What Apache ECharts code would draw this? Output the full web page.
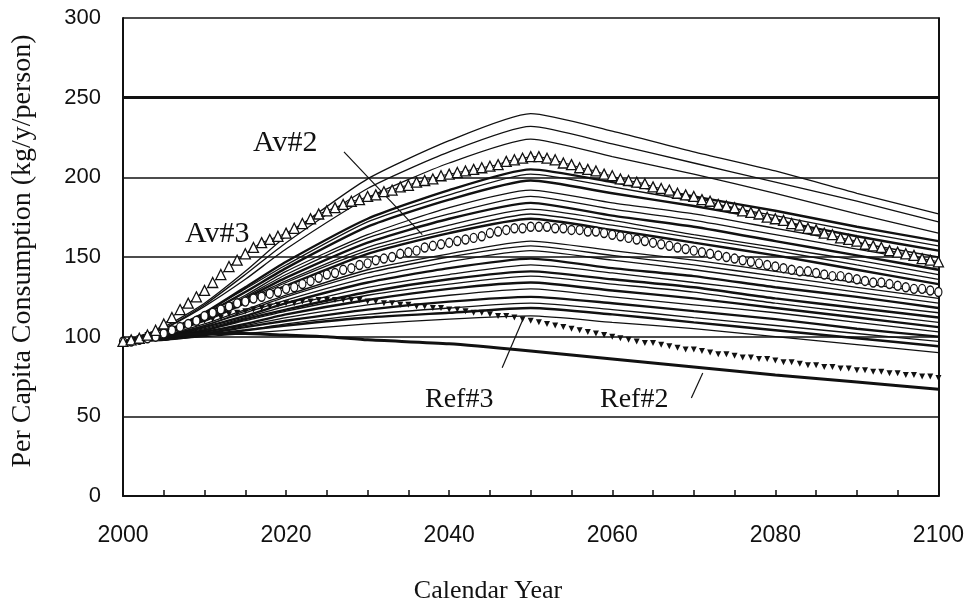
<!DOCTYPE html>
<html><head><meta charset="utf-8">
<script src="https://cdn.jsdelivr.net/npm/echarts@6/dist/echarts.min.js"></script>
<style>html,body{margin:0;padding:0;background:#fff}#c{width:967px;height:608px}</style>
</head><body><div id="c"></div>
<script>
// ---- data ----
const keyYears = [2000,2005,2010,2015,2020,2030,2040,2050,2060,2070,2080,2090,2100];
const L1  = [97,106,121,141,163,199,223,240,229,216,204,190,177];
const L2  = [97,105,120,139,159,193,216,232,221,209,197,185,172];
const L3  = [97,105,119,136,155,187,209,224,213,202,190,177,165];
const L4  = [97,103,115,131,147,174,192,205,197,188,179,169,160];
const L5  = [97,103,115,130,145,172,189,202,194,185,176,166,157];
const L6  = [97,103,114,128,143,169,186,198,190,182,173,163,154];
const L7  = [97,103,113,126,141,164,181,192,184,177,168,159,150];
const L8  = [97,102,112,125,139,162,177,188,180,173,164,155,146];
const L9  = [97,102,112,124,137,159,174,184,176,169,160,151,142];
const L10 = [97,102,111,123,135,156,170,180,173,164,156,148,139];
const L11 = [97,102,111,122,134,154,167,177,170,162,154,145,136];
const L12 = [97,102,110,121,132,152,165,174,167,159,151,142,133];
const L13 = [97,101,108,117,126,142,152,160,154,148,141,134,127];
const L14 = [97,101,107,116,125,140,150,157,151,145,138,131,124];
const L15 = [97,100,107,115,123,137,147,154,148,142,135,128,121];
const L16 = [97,100,106,113,121,134,143,149,143,138,131,125,118];
const L17 = [97,100,105,112,119,131,139,145,140,134,128,121,115];
const L18 = [97,100,104,111,117,128,136,141,136,131,124,118,112];
const L19 = [97,99,104,110,116,126,133,138,133,128,121,115,109];
const L20 = [97,99,103,108,114,123,130,134,129,124,118,112,106];
const L21 = [97,99,103,107,112,120,126,130,125,120,115,109,103];
const L22 = [97,99,102,106,110,117,122,125,121,116,111,105,100];
const L23 = [97,98,101,104,108,114,118,121,117,112,107,102,97];
const L24 = [97,98,101,104,107,112,115,118,114,109,104,99,94];
const L25 = [97,98,100,102,104,108,111,113,109,105,100,95,90];

const ref2Years = [2000,2005,2010,2015,2020,2025,2030,2040,2050,2060,2070,2080,2090,2100];
const ref2 = [97,100,102,102,101,100,98,95.5,91,86,81,76,71.5,67];

// annual values, 2000..2100
const firstYear = 2000;
const av3 = [97,98,99,101,104,108,112,117,121,125,129,
  134,139,144,148,152,156,159,161,163,165,
  168,171,174,177,179,181,183,185,186,188,
  189,191,192,194,195,197,198,199,201,202,
  203,204,205,206,207,208,210,211,212,213,
  213,212,211,209,208,206,205,204,202,201,
  199,198,197,196,194,193,192,190,189,188,
  186,185,183,182,181,179,178,177,175,174,
  173,171,170,168,167,165,164,162,161,160,
  158,157,156,154,153,152,151,149,148,147];
const av2 = [97,97,98,99,100,102,104,106,108,110,113,
  115,117,119,121,122,124,125,127,128,130,
  131,133,135,137,139,140,142,143,145,146,
  148,149,150,152,153,154,156,157,158,159,
  160,161,162,163,165,166,167,168,168,169,
  169,169,168,168,167,167,166,166,165,164,
  163,162,161,160,159,158,157,156,155,154,
  153,152,151,150,149,148,147,146,145,144,
  143,142,141,141,140,139,138,138,137,136,
  135,134,134,133,132,131,130,130,129,128];
const ref3 = [97,98,99,101,102,103,105,106,107,109,110,
  111,112,114,115,116,117,118,119,120,121,
  121,122,122,123,123,123,123,123,123,122,
  122,121,121,120,120,119,119,118,118,117,
  117,116,115,115,114,113,113,112,111,110,
  109,108,107,106,105,104,103,102,101,100,
  99,98,97,96,96,95,94,93,92,92,
  91,90,89,89,88,87,87,86,86,85,
  84,84,83,82,82,81,81,80,80,79,
  79,78,78,77,77,76,76,75,75,74];

const yTicks = [0,50,100,150,200,250,300];
const xLabelYears = [2000,2020,2040,2060,2080,2100];

// ---- chart ----
const chart = echarts.init(document.getElementById('c'), null, {renderer:'canvas'});
const INK = '#111';
const solidLines = [L1,L2,L3,L4,L5,L6,L7,L8,L9,L10,L11,L12,L13,L14,L15,L16,L17,L18,L19,L20,L21,L22,L23,L24,L25];
const boldIdx = [3,5,8,11,15,17,19,21,23];
const series = [];
solidLines.forEach((arr, k) => {
  series.push({
    type:'line', silent:true, symbol:'none', smooth:0.2,
    lineStyle:{color:INK, width: boldIdx.includes(k) ? 2.4 : 1.3},
    data: keyYears.map((y,i)=>[y, arr[i]]), z:2
  });
});
series.push({
  type:'line', silent:true, symbol:'none', smooth:0.2,
  lineStyle:{color:INK, width:3},
  data: ref2Years.map((y,i)=>[y, ref2[i]]), z:3,
  markLine:{
    silent:true, symbol:'none', label:{show:false},
    lineStyle:{color:INK, width:1.2, type:'solid'},
    data:[
      [{coord:[2027.1,216]},{coord:[2036.7,164]}],
      [{coord:[2046.5,80.5]},{coord:[2049.1,111.5]}],
      [{coord:[2069.7,61.5]},{coord:[2071.1,77.2]}],
      [{coord:[2000,250], lineStyle:{width:3}},{coord:[2100,250]}]
    ]
  }
});
series.push({
  type:'line', silent:true, symbol:'triangle', symbolSize:[6,6], symbolRotate:180,
  itemStyle:{color:INK}, lineStyle:{opacity:0},
  data: ref3.map((v,i)=>[firstYear+i, v]), z:4
});
series.push({
  type:'line', silent:true, symbol:'circle', symbolSize:[7,9],
  itemStyle:{color:'#fff', borderColor:INK, borderWidth:1.3},
  lineStyle:{color:INK, width:1},
  data: av2.map((v,i)=>[firstYear+i, v]), z:5
});
series.push({
  type:'line', silent:true, symbol:'triangle', symbolSize:[10,10],
  itemStyle:{color:'#fff', borderColor:INK, borderWidth:1.3},
  lineStyle:{color:INK, width:1},
  data: av3.map((v,i)=>[firstYear+i, v]), z:6
});

const serif = "'Liberation Serif','DejaVu Serif',serif";
const sans = "'Liberation Sans',Arial,sans-serif";

chart.setOption({
  animation:false,
  backgroundColor:'#fff',
  grid:{left:123, right:26, top:18, bottom:112, containLabel:false},
  xAxis:{
    type:'value', min:2000, max:2100, interval:5,
    axisLine:{show:true, onZero:false, lineStyle:{color:INK, width:2}},
    axisTick:{show:true, inside:true, length:6, lineStyle:{color:INK, width:1.5}},
    axisLabel:{
      margin:28, color:INK, fontSize:23, fontFamily:sans,
      formatter:v => xLabelYears.includes(v) ? String(v) : ''
    },
    splitLine:{show:false}
  },
  yAxis:[{
    type:'value', min:0, max:300, interval:50,
    axisLine:{show:true, lineStyle:{color:INK, width:2}},
    axisTick:{show:false},
    axisLabel:{margin:22, color:INK, fontSize:22, fontFamily:sans,
      formatter:v => yTicks.includes(v) ? String(v) : ''},
    splitLine:{show:true, lineStyle:{color:INK, width:1.6}}
  },{
    type:'value', min:0, max:300, interval:50, position:'right',
    axisLine:{show:true, lineStyle:{color:INK, width:2}},
    axisTick:{show:false}, axisLabel:{show:false}, splitLine:{show:false}
  }],
  graphic:[
    {type:'text', x:23, y:251, rotation:Math.PI/2,
     style:{text:'Per Capita Consumption (kg/y/person)', font:'28px '+serif, fill:INK, textAlign:'center', textVerticalAlign:'middle'}},
    {type:'text', x:488, y:591,
     style:{text:'Calendar Year', font:'26px '+serif, fill:INK, textAlign:'center', textVerticalAlign:'middle'}},
    {type:'text', x:253, y:143, style:{text:'Av#2', font:'30px '+serif, fill:INK, textAlign:'left', textVerticalAlign:'middle'}},
    {type:'text', x:185, y:234, style:{text:'Av#3', font:'30px '+serif, fill:INK, textAlign:'left', textVerticalAlign:'middle'}},
    {type:'text', x:425, y:400, style:{text:'Ref#3', font:'28px '+serif, fill:INK, textAlign:'left', textVerticalAlign:'middle'}},
    {type:'text', x:600, y:400, style:{text:'Ref#2', font:'28px '+serif, fill:INK, textAlign:'left', textVerticalAlign:'middle'}}
  ],
  series: series
});
</script></body></html>
